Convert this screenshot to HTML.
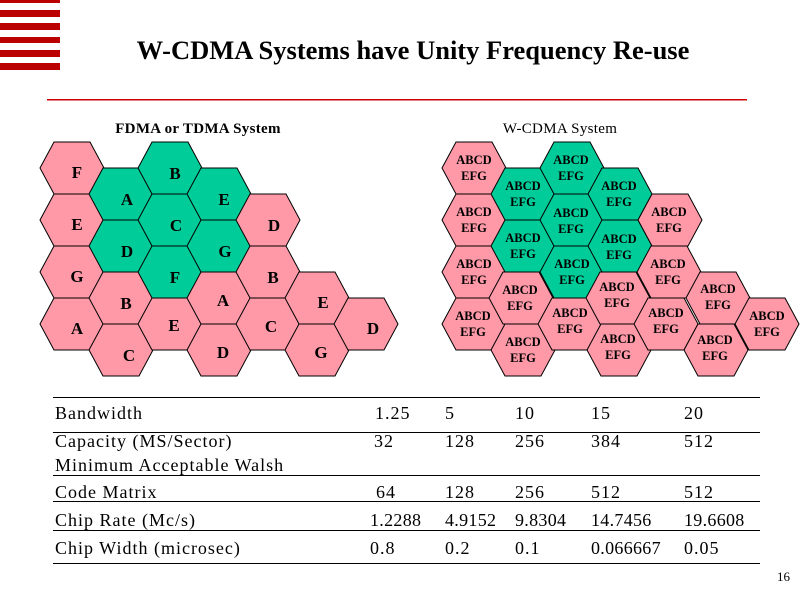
<!DOCTYPE html>
<html><head><meta charset="utf-8"><style>
html,body{margin:0;padding:0;background:#fff;}
svg{display:block;font-family:"Liberation Serif",serif;}
</style></head><body>
<svg width="800" height="600" viewBox="0 0 800 600" xmlns="http://www.w3.org/2000/svg">
<defs><polygon id="h" points="-32,0 -18,-26 18,-26 32,0 18,26 -18,26" stroke="#000" stroke-width="1"/></defs>
<g fill="#BB0000">
<rect x="0" y="0" width="60" height="3"/><rect x="0" y="10" width="60" height="7"/><rect x="0" y="23" width="60" height="7"/>
<rect x="0" y="37" width="60" height="6"/><rect x="0" y="50" width="60" height="7"/><rect x="0" y="63" width="60" height="7"/>
</g>
<text x="413" y="59" font-size="26.5" font-weight="bold" text-anchor="middle">W-CDMA Systems have Unity Frequency Re-use</text>
<rect x="47" y="99" width="700" height="1.5" fill="#CC0000"/>
<text x="198" y="133" font-size="15" font-weight="bold" letter-spacing="0.3" text-anchor="middle">FDMA or TDMA System</text>
<text x="560" y="133" font-size="15" letter-spacing="0.3" text-anchor="middle">W-CDMA System</text>

<g>
<use href="#h" x="72" y="168" fill="#FF99A8"/><use href="#h" x="72" y="220" fill="#FF99A8"/><use href="#h" x="72" y="272" fill="#FF99A8"/><use href="#h" x="72" y="324" fill="#FF99A8"/>
<use href="#h" x="121" y="194" fill="#00CC99"/><use href="#h" x="121" y="246" fill="#00CC99"/><use href="#h" x="121" y="298" fill="#FF99A8"/><use href="#h" x="121" y="350" fill="#FF99A8"/>
<use href="#h" x="170" y="168" fill="#00CC99"/><use href="#h" x="170" y="220" fill="#00CC99"/><use href="#h" x="170" y="272" fill="#00CC99"/><use href="#h" x="170" y="324" fill="#FF99A8"/>
<use href="#h" x="219" y="194" fill="#00CC99"/><use href="#h" x="219" y="246" fill="#00CC99"/><use href="#h" x="219" y="298" fill="#FF99A8"/><use href="#h" x="219" y="350" fill="#FF99A8"/>
<use href="#h" x="268" y="220" fill="#FF99A8"/><use href="#h" x="268" y="272" fill="#FF99A8"/><use href="#h" x="268" y="324" fill="#FF99A8"/>
<use href="#h" x="317" y="298" fill="#FF99A8"/><use href="#h" x="317" y="350" fill="#FF99A8"/>
<use href="#h" x="366" y="324" fill="#FF99A8"/>
</g>
<g font-size="17" font-weight="bold" text-anchor="middle">
<text x="77" y="178">F</text><text x="77" y="230">E</text><text x="77" y="282">G</text><text x="77" y="334">A</text>
<text x="127" y="205">A</text><text x="127" y="257">D</text><text x="126" y="309">B</text><text x="129" y="361">C</text>
<text x="175" y="179">B</text><text x="176" y="231">C</text><text x="175" y="283">F</text><text x="174" y="331">E</text>
<text x="224" y="205">E</text><text x="225" y="257">G</text><text x="223" y="306">A</text><text x="223" y="358">D</text>
<text x="274" y="231">D</text><text x="273" y="283">B</text><text x="271" y="332">C</text>
<text x="323" y="308">E</text><text x="321" y="358">G</text>
<text x="373" y="334">D</text>
</g>

<g>
<use href="#h" x="474" y="168" fill="#FF99A8"/><use href="#h" x="474" y="220" fill="#FF99A8"/><use href="#h" x="474" y="272" fill="#FF99A8"/><use href="#h" x="474" y="324" fill="#FF99A8"/>
<use href="#h" x="523" y="194" fill="#00CC99"/><use href="#h" x="523" y="246" fill="#00CC99"/><use href="#h" x="521" y="298" fill="#FF99A8"/><use href="#h" x="523" y="350" fill="#FF99A8"/>
<use href="#h" x="572" y="168" fill="#00CC99"/><use href="#h" x="572" y="220" fill="#00CC99"/><use href="#h" x="572" y="272" fill="#00CC99"/><use href="#h" x="570" y="324" fill="#FF99A8"/>
<use href="#h" x="620" y="194" fill="#00CC99"/><use href="#h" x="620" y="246" fill="#00CC99"/><use href="#h" x="618" y="298" fill="#FF99A8"/><use href="#h" x="619" y="350" fill="#FF99A8"/>
<use href="#h" x="670" y="220" fill="#FF99A8"/><use href="#h" x="669" y="272" fill="#FF99A8"/><use href="#h" x="666" y="324" fill="#FF99A8"/>
<use href="#h" x="718" y="298" fill="#FF99A8"/><use href="#h" x="716" y="350" fill="#FF99A8"/>
<use href="#h" x="767" y="324" fill="#FF99A8"/>
</g>
<g font-size="12.5" font-weight="bold" text-anchor="middle">
<text x="474" y="164">ABCD</text><text x="474" y="180">EFG</text>
<text x="474" y="216">ABCD</text><text x="474" y="232">EFG</text>
<text x="474" y="268">ABCD</text><text x="474" y="284">EFG</text>
<text x="473" y="320">ABCD</text><text x="473" y="336">EFG</text>
<text x="523" y="190">ABCD</text><text x="523" y="206">EFG</text>
<text x="523" y="242">ABCD</text><text x="523" y="258">EFG</text>
<text x="520" y="294">ABCD</text><text x="520" y="310">EFG</text>
<text x="523" y="346">ABCD</text><text x="523" y="362">EFG</text>
<text x="571" y="164">ABCD</text><text x="571" y="180">EFG</text>
<text x="571" y="217">ABCD</text><text x="571" y="233">EFG</text>
<text x="572" y="268">ABCD</text><text x="572" y="284">EFG</text>
<text x="570" y="317">ABCD</text><text x="570" y="333">EFG</text>
<text x="619" y="190">ABCD</text><text x="619" y="206">EFG</text>
<text x="619" y="243">ABCD</text><text x="619" y="259">EFG</text>
<text x="617" y="291">ABCD</text><text x="617" y="307">EFG</text>
<text x="618" y="343">ABCD</text><text x="618" y="359">EFG</text>
<text x="669" y="216">ABCD</text><text x="669" y="232">EFG</text>
<text x="668" y="268">ABCD</text><text x="668" y="284">EFG</text>
<text x="666" y="317">ABCD</text><text x="666" y="333">EFG</text>
<text x="718" y="293">ABCD</text><text x="718" y="309">EFG</text>
<text x="715" y="344">ABCD</text><text x="715" y="360">EFG</text>
<text x="767" y="320">ABCD</text><text x="767" y="336">EFG</text>
</g>

<g fill="#000">
<rect x="53" y="397" width="707" height="1"/><rect x="53" y="432" width="707" height="1"/>
<rect x="53" y="475" width="707" height="1"/><rect x="53" y="501" width="707" height="1"/>
<rect x="53" y="530" width="707" height="1"/><rect x="53" y="563" width="707" height="1"/>
</g>
<g font-size="18" letter-spacing="1">
<text x="55" y="419">Bandwidth</text><text x="375" y="419">1.25</text><text x="445" y="419">5</text><text x="515" y="419">10</text><text x="591" y="419">15</text><text x="684" y="419">20</text>
<text x="55" y="447">Capacity (MS/Sector)</text><text x="374" y="447">32</text><text x="445" y="447">128</text><text x="515" y="447">256</text><text x="591" y="447">384</text><text x="684" y="447">512</text>
<text x="55" y="471">Minimum Acceptable Walsh</text>
<text x="55" y="498">Code Matrix</text><text x="376" y="498">64</text><text x="445" y="498">128</text><text x="515" y="498">256</text><text x="591" y="498">512</text><text x="684" y="498">512</text>
<text x="55" y="526">Chip Rate (Mc/s)</text><text x="370" y="526" letter-spacing="0.3">1.2288</text><text x="445" y="526" letter-spacing="0.3">4.9152</text><text x="515" y="526" letter-spacing="0.3">9.8304</text><text x="591" y="526" letter-spacing="0.3">14.7456</text><text x="684" y="526" letter-spacing="0.3">19.6608</text>
<text x="55" y="554">Chip Width (microsec)</text><text x="370" y="554">0.8</text><text x="445" y="554">0.2</text><text x="515" y="554">0.1</text><text x="591" y="554" letter-spacing="0.3">0.066667</text><text x="684" y="554">0.05</text>
</g>
<text x="777" y="581" font-size="13">16</text>
</svg>
</body></html>
